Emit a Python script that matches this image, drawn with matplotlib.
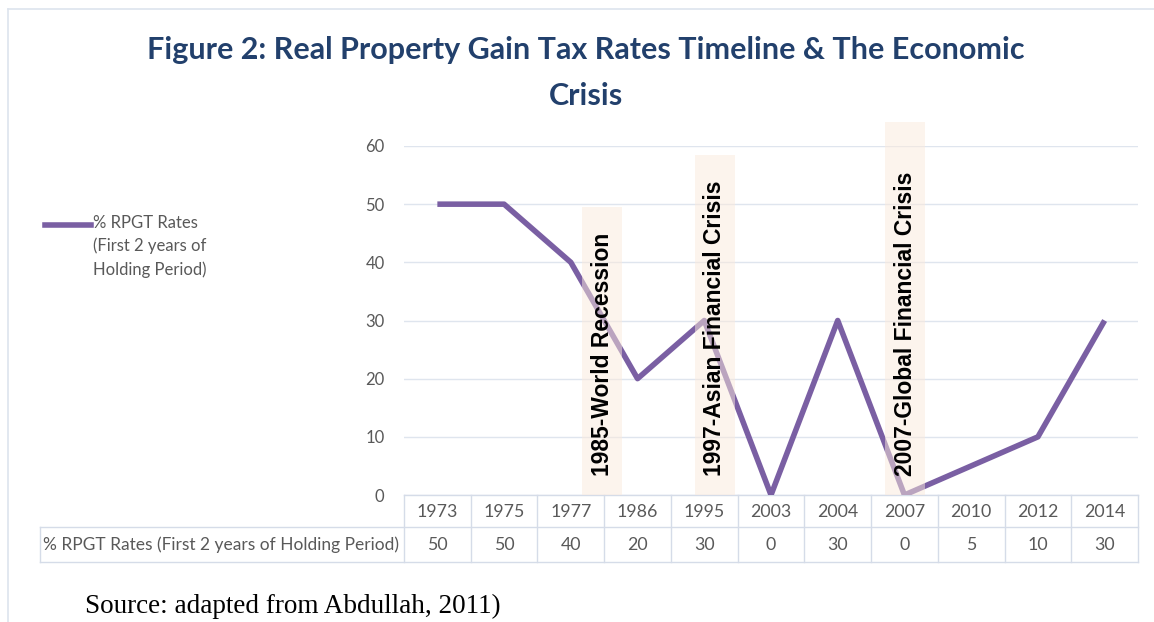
import matplotlib
matplotlib.use("Agg")
import matplotlib.pyplot as plt
from matplotlib.lines import Line2D
from matplotlib.patches import Rectangle
from matplotlib.transforms import blended_transform_factory

# data
years = ["1973", "1975", "1977", "1986", "1995", "2003", "2004", "2007", "2010", "2012", "2014"]
rates = [50, 50, 40, 20, 30, 0, 30, 0, 5, 10, 30]
series_name = "% RPGT Rates (First 2 years of Holding Period)"
legend_label = "% RPGT Rates\n(First 2 years of\nHolding Period)"
crises = ["1985-World Recession", "1997-Asian Financial Crisis", "2007-Global Financial Crisis"]
title = "Figure 2: Real Property Gain Tax Rates Timeline & The Economic\nCrisis"
source = "Source: adapted from Abdullah, 2011)"

W, H = 1154, 622
fig = plt.figure(figsize=(W / 100, H / 100), dpi=100)
fig.patch.set_facecolor("white")

def fx(x):
    return x / W

def fy(y):
    return 1 - y / H

# axes box in pixels
L, R, T, B = 404, 1138, 146, 495
ax = fig.add_axes([fx(L), fy(B), fx(R - L), fy(T) - fy(B)])

purple = "#7a5fa3"
grid_c = "#dfe5ee"
txt_c = "#595959"

x = list(range(len(years)))
ax.plot(x, rates, color=purple, lw=4, solid_capstyle="butt", zorder=3)

ax.set_xlim(-0.5, len(years) - 0.5)
ax.set_ylim(0, 60)
ax.set_yticks(range(0, 61, 10))
ax.set_xticks([])
ax.yaxis.grid(True, color=grid_c, lw=1)
ax.set_axisbelow(True)
for s in ax.spines.values():
    s.set_visible(False)
ax.tick_params(axis="y", length=0, pad=14, labelsize=12, labelcolor=txt_c)
for lab in ax.get_yticklabels():
    lab.set_family("Lato")

# crisis bands (text boxes) : (x0, x1, top value)
bands = [(2.17, 2.77, 49.5), (3.86, 4.46, 58.4), (6.71, 7.31, 64.1)]
for (b0, b1, top), label in zip(bands, crises):
    ax.add_patch(Rectangle((b0, 0), b1 - b0, top, facecolor="#fbeadc", alpha=0.5,
                           edgecolor="none", zorder=4, clip_on=False))
    ax.text((b0 + b1) / 2, 3.2, label, rotation=90, ha="center", va="bottom",
            fontsize=16.5, fontweight="bold", family="Liberation Sans", color="black",
            zorder=5)

# data table under the axes
tr = blended_transform_factory(ax.transData, ax.transAxes)
trf = blended_transform_factory(fig.transFigure, ax.transAxes)
h_mid = -17 / (B - T)
v_mid = -50 / (B - T)
r1 = -32 / (B - T)
r2 = -67 / (B - T)
tab_c = "#d5dce8"
for i in range(len(years) + 1):
    ax.plot([i - 0.5, i - 0.5], [0.0, r2], transform=tr, color=tab_c, lw=1, clip_on=False)
ax.plot([-0.5, len(years) - 0.5], [0, 0], transform=tr, color=tab_c, lw=1, clip_on=False)
for yy in (r1, r2):
    ax.plot([fx(40), fx(R)], [yy, yy], transform=trf, color=tab_c, lw=1, clip_on=False)
ax.plot([fx(40), fx(40)], [r1, r2], transform=trf, color=tab_c, lw=1, clip_on=False)
for i, (yr, v) in enumerate(zip(years, rates)):
    ax.text(i, h_mid, yr, transform=tr, ha="center", va="center", fontsize=12.8,
            color=txt_c, family="Lato")
    ax.text(i, v_mid, str(v), transform=tr, ha="center", va="center", fontsize=12.8,
            color=txt_c, family="Lato")
ax.text(fx(221), v_mid, series_name, transform=trf, ha="center", va="center",
        fontsize=12.5, color=txt_c, family="Lato")

# legend on the left
fig.add_artist(Line2D([fx(45), fx(91)], [fy(225), fy(225)], color=purple, lw=4))
fig.text(fx(93), fy(215), legend_label, ha="left", va="top", fontsize=12,
         color=txt_c, family="Lato", linespacing=1.5)

# title
fig.text(fx(586), fy(36), title, ha="center", va="top", fontsize=22,
         fontweight="bold", color="#22406c", family="Lato", linespacing=1.8)

# source
fig.text(fx(85), fy(613), source, ha="left", va="baseline", fontsize=19.5,
         family="Liberation Serif", color="black")

# outer frame
fig.add_artist(Line2D([fx(8), fx(W)], [fy(9), fy(9)], color="#dde4ee", lw=1.2))
fig.add_artist(Line2D([fx(8), fx(8)], [fy(9), 0], color="#dde4ee", lw=1.2))

fig.savefig("out.png", dpi=100)
